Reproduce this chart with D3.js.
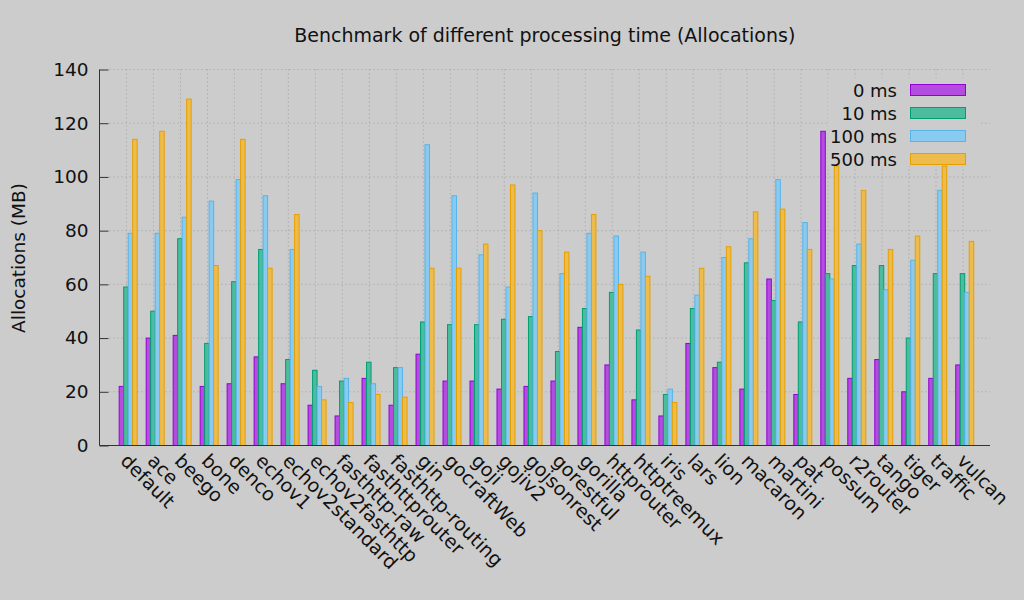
<!DOCTYPE html>
<html>
<head>
<meta charset="utf-8">
<script src="https://cdn.jsdelivr.net/npm/d3@7"></script>
<style>
  body { margin: 0; background: #cccccc; }
  svg { display: block; font-family: "DejaVu Sans", sans-serif; }
</style>
</head>
<body>
<svg width="1024" height="600"></svg>
<script>
let routers = ["default", "ace", "beego", "bone", "denco", "echov1", "echov2standard", "echov2fasthttp",
  "fasthttp-raw", "fasthttprouter", "fasthttp-routing", "gin", "gocraftWeb", "goji", "gojiv2", "gojsonrest",
  "gorestful", "gorilla", "httprouter", "httptreemux", "iris", "lars", "lion", "macaron", "martini", "pat",
  "possum", "r2router", "tango", "tiger", "traffic", "vulcan"];

let series = ["0 ms", "10 ms", "100 ms", "500 ms"];

let ms0 =   [22, 40, 41, 22, 23, 33, 23, 15, 11, 25, 15, 34, 24, 24, 21, 22, 24, 44, 30, 17, 11, 38, 29, 21, 62, 19, 117, 25, 32, 20, 25, 30];
let ms10 =  [59, 50, 77, 38, 61, 73, 32, 28, 24, 31, 29, 46, 45, 45, 47, 48, 35, 51, 57, 43, 19, 51, 31, 68, 54, 46, 64, 67, 67, 40, 64, 64];
let ms100 = [79, 79, 85, 91, 99, 93, 73, 22, 25, 23, 29, 112, 93, 71, 59, 94, 64, 79, 78, 72, 21, 56, 70, 77, 99, 83, 62, 75, 58, 69, 95, 57];
let ms500 = [114, 117, 129, 67, 114, 66, 86, 17, 16, 19, 18, 66, 66, 75, 97, 80, 72, 86, 60, 63, 16, 66, 74, 87, 88, 73, 104, 95, 73, 78, 104, 76];

let yTicks = [0, 20, 40, 60, 80, 100, 120, 140];

let lines = ["#9400d3", "#009e73", "#56b4e9", "#e69f00"];
let fills = ["#b44ce0", "#4dbb9d", "#89cbf0", "#eebc4c"];

let svg = d3.select("svg");
let plotLeft = 99.5, plotRight = 990, plotTop = 69.5, plotBottom = 445.5;

svg.append("rect").attr("width", 1024).attr("height", 600).attr("fill", "#cccccc");

let xScale = d3.scaleLinear().domain([-1, routers.length]).range([plotLeft, plotRight]);
let yScale = d3.scaleLinear().domain([0, 140]).range([plotBottom, plotTop]);

// grid
let grid = svg.append("g").attr("stroke", "#a0a0a0").attr("stroke-dasharray", "1,3").attr("stroke-width", 1);
yTicks.slice(1).forEach(t => {
  grid.append("line").attr("x1", plotLeft + 10).attr("x2", plotRight)
    .attr("y1", yScale(t)).attr("y2", yScale(t));
});
routers.forEach((r, i) => {
  grid.append("line").attr("x1", xScale(i)).attr("x2", xScale(i))
    .attr("y1", plotTop).attr("y2", plotBottom);
});

// key background hides the grid behind it
svg.append("rect").attr("x", 828).attr("y", 78).attr("width", 152).attr("height", 88).attr("fill", "#cccccc");

// bars
let data = [ms0, ms10, ms100, ms500];
let bw = 1 / 6;
data.forEach((vals, j) => {
  svg.append("g").selectAll("rect")
    .data(vals)
    .enter()
    .append("rect")
    .attr("x", (d, i) => xScale(i - 0.27 + j * bw))
    .attr("width", xScale(bw) - xScale(0))
    .attr("y", d => yScale(d))
    .attr("height", d => yScale(0) - yScale(d))
    .attr("fill", fills[j])
    .attr("stroke", lines[j])
    .attr("stroke-width", 1);
});

// axes
let yAxis = d3.axisLeft(yScale).tickValues(yTicks).tickSize(-9).tickPadding(11);
let gy = svg.append("g").attr("transform", "translate(" + plotLeft + ",0)").call(yAxis);
gy.select(".domain").remove();
gy.selectAll(".tick line").attr("stroke", "#333");
gy.selectAll(".tick text").attr("font-size", 18.5).attr("fill", "#111").attr("font-family", "DejaVu Sans");

svg.append("line").attr("x1", plotLeft).attr("x2", plotLeft).attr("y1", plotTop).attr("y2", plotBottom).attr("stroke", "#333");
svg.append("line").attr("x1", plotLeft).attr("x2", plotRight).attr("y1", plotBottom).attr("y2", plotBottom).attr("stroke", "#333");

// x labels
svg.append("g").selectAll("text")
  .data(routers)
  .enter()
  .append("text")
  .attr("transform", (d, i) => "translate(" + (xScale(i) - 7) + ",462) rotate(45)")
  .attr("font-size", 19)
  .attr("fill", "#111")
  .text(d => d);

// title and axis label
svg.append("text").attr("x", (plotLeft + plotRight) / 2).attr("y", 42).attr("text-anchor", "middle")
  .attr("font-size", 19).attr("fill", "#111")
  .text("Benchmark of different processing time (Allocations)");

svg.append("text").attr("transform", "translate(25,258) rotate(-90)").attr("text-anchor", "middle")
  .attr("font-size", 18.5).attr("fill", "#111")
  .text("Allocations (MB)");

// key
let key = svg.append("g");
series.forEach((s, j) => {
  let cy = 90 + j * 23;
  key.append("text").attr("x", 897).attr("y", cy + 6.5).attr("text-anchor", "end")
    .attr("font-size", 18).attr("fill", "#111").text(s);
  key.append("rect").attr("x", 910.5).attr("y", cy - 5.5).attr("width", 55).attr("height", 11)
    .attr("fill", fills[j]).attr("stroke", lines[j]).attr("stroke-width", 1);
});
</script>
</body>
</html>
